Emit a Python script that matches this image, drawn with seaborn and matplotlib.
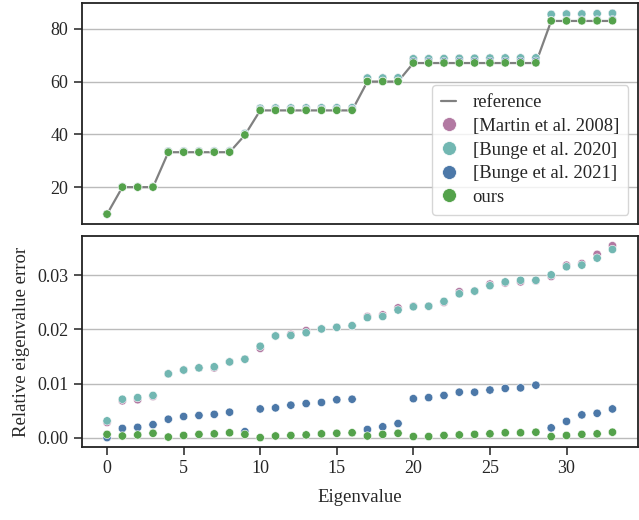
import numpy as np
import pandas as pd
import matplotlib
matplotlib.use("Agg")
import matplotlib.pyplot as plt
import seaborn as sns
from matplotlib.lines import Line2D
from matplotlib.ticker import MultipleLocator, FormatStrFormatter

# eigenvalue index
idx = list(range(34))

# reference eigenvalues
reference = [9.9,
             20.1, 20.1, 20.1,
             33.3, 33.3, 33.3, 33.3, 33.3,
             39.8,
             49.1, 49.1, 49.1, 49.1, 49.1, 49.1, 49.1,
             60.0, 60.0, 60.0,
             67.0, 67.0, 67.0, 67.0, 67.0, 67.0, 67.0, 67.0, 67.0,
             82.9, 82.9, 82.9, 82.9, 82.9]

# relative eigenvalue errors (bottom panel)
err_martin = [0.0028, 0.0068, 0.0070, 0.0076, 0.0118, 0.0125, 0.0129, 0.0129, 0.0140,
              0.0145, 0.0165, 0.0188, 0.0191, 0.0198, 0.0201, 0.0204, 0.0207, 0.0224,
              0.0227, 0.0240, 0.0243, 0.0243, 0.0250, 0.0270, 0.0271, 0.0284, 0.0286,
              0.0288, 0.0290, 0.0298, 0.0319, 0.0322, 0.0339, 0.0355]
err_bunge20 = [0.0031, 0.0071, 0.0074, 0.0078, 0.0118, 0.0125, 0.0129, 0.0131, 0.0140,
               0.0145, 0.0169, 0.0188, 0.0189, 0.0194, 0.0201, 0.0204, 0.0207, 0.0222,
               0.0224, 0.0236, 0.0242, 0.0243, 0.0252, 0.0266, 0.0271, 0.0281, 0.0288,
               0.0291, 0.0291, 0.0301, 0.0316, 0.0319, 0.0332, 0.0348]
err_bunge21 = [0.0000, 0.0017, 0.0019, 0.0024, 0.0034, 0.0039, 0.0041, 0.0043, 0.0047,
               0.0011, 0.0053, 0.0055, 0.0060, 0.0063, 0.0065, 0.0070, 0.0071, 0.0015,
               0.0020, 0.0026, 0.0072, 0.0074, 0.0078, 0.0084, 0.0084, 0.0088, 0.0091,
               0.0092, 0.0097, 0.0018, 0.0030, 0.0042, 0.0045, 0.0053]
err_ours = [0.0006, 0.0003, 0.0005, 0.0008, 0.0001, 0.0004, 0.0006, 0.0007, 0.0009,
            0.0006, 0.0000, 0.0003, 0.0004, 0.0005, 0.0007, 0.0008, 0.0009, 0.0003,
            0.0006, 0.0008, 0.0002, 0.0002, 0.0004, 0.0005, 0.0006, 0.0007, 0.0009,
            0.0009, 0.0010, 0.0002, 0.0004, 0.0006, 0.0007, 0.0010]

methods = ['[Martin et al. 2008]', '[Bunge et al. 2020]', '[Bunge et al. 2021]', 'ours']
errors = [err_martin, err_bunge20, err_bunge21, err_ours]
colors = ['#b279a2', '#72b7b2', '#4c78a8', '#54a24b']
ref_color = '#808080'

# long table: computed eigenvalue = reference * (1 + relative error)
ref_arr = np.array(reference)
frames = []
for m, e in zip(methods, errors):
    frames.append(pd.DataFrame({'idx': idx, 'method': m, 'err': e,
                                'value': ref_arr * (1 + np.array(e))}))
df = pd.concat(frames, ignore_index=True)
df_ref = pd.DataFrame({'idx': idx, 'value': reference})

sns.set_theme(style="ticks")
plt.rcParams['font.family'] = ['Liberation Serif', 'DejaVu Serif']
plt.rcParams['font.size'] = 13
plt.rcParams['axes.edgecolor'] = '#222222'
plt.rcParams['axes.linewidth'] = 1.3

fig, (ax1, ax2) = plt.subplots(2, 1, figsize=(6.39, 5.2), dpi=100, sharex=True,
                               gridspec_kw={'height_ratios': [222, 212]})
fig.subplots_adjust(left=0.128, right=0.998, top=0.994, bottom=0.140, hspace=0.055)

palette = dict(zip(methods, colors))

# top: eigenvalues
sns.lineplot(data=df_ref, x='idx', y='value', ax=ax1, color=ref_color, linewidth=1.6, zorder=2)
sns.scatterplot(data=df, x='idx', y='value', hue='method', palette=palette, ax=ax1,
                s=36, edgecolor='white', linewidth=0.4, legend=False, zorder=3)

# bottom: relative error
sns.scatterplot(data=df, x='idx', y='err', hue='method', palette=palette, ax=ax2,
                s=36, edgecolor='white', linewidth=0.4, legend=False, zorder=3)

for ax in (ax1, ax2):
    ax.grid(axis='y', color='#bbbbbb', linewidth=1.0, zorder=0)
    ax.grid(axis='x', visible=False)
    ax.set_axisbelow(True)
    ax.tick_params(axis='both', labelsize=13, length=6, width=1.1, color='#222222')

ax1.yaxis.set_major_locator(MultipleLocator(20))
ax1.set_xlabel('')
ax1.set_ylabel('')
ax1.tick_params(axis='x', length=0)

ax2.yaxis.set_major_locator(MultipleLocator(0.01))
ax2.yaxis.set_major_formatter(FormatStrFormatter('%.2f'))
ax2.xaxis.set_major_locator(MultipleLocator(5))
ax2.set_xlabel('Eigenvalue', fontsize=13.5, labelpad=8)
ax2.set_ylabel('Relative eigenvalue error', fontsize=13.5, labelpad=5)

handles = [Line2D([0], [0], color=ref_color, linewidth=1.6)]
for c in colors:
    handles.append(Line2D([0], [0], marker='o', linestyle='none', markersize=10,
                          markerfacecolor=c, markeredgecolor='white', markeredgewidth=0.5))
ax1.legend(handles, ['reference'] + methods, loc='lower right', fontsize=13.4,
           handlelength=0.8, handletextpad=0.9, labelspacing=0.35, borderpad=0.5,
           borderaxespad=0.5, frameon=True, fancybox=True, edgecolor='#cccccc')

fig.savefig('out.png', dpi=100)
plt.close(fig)
